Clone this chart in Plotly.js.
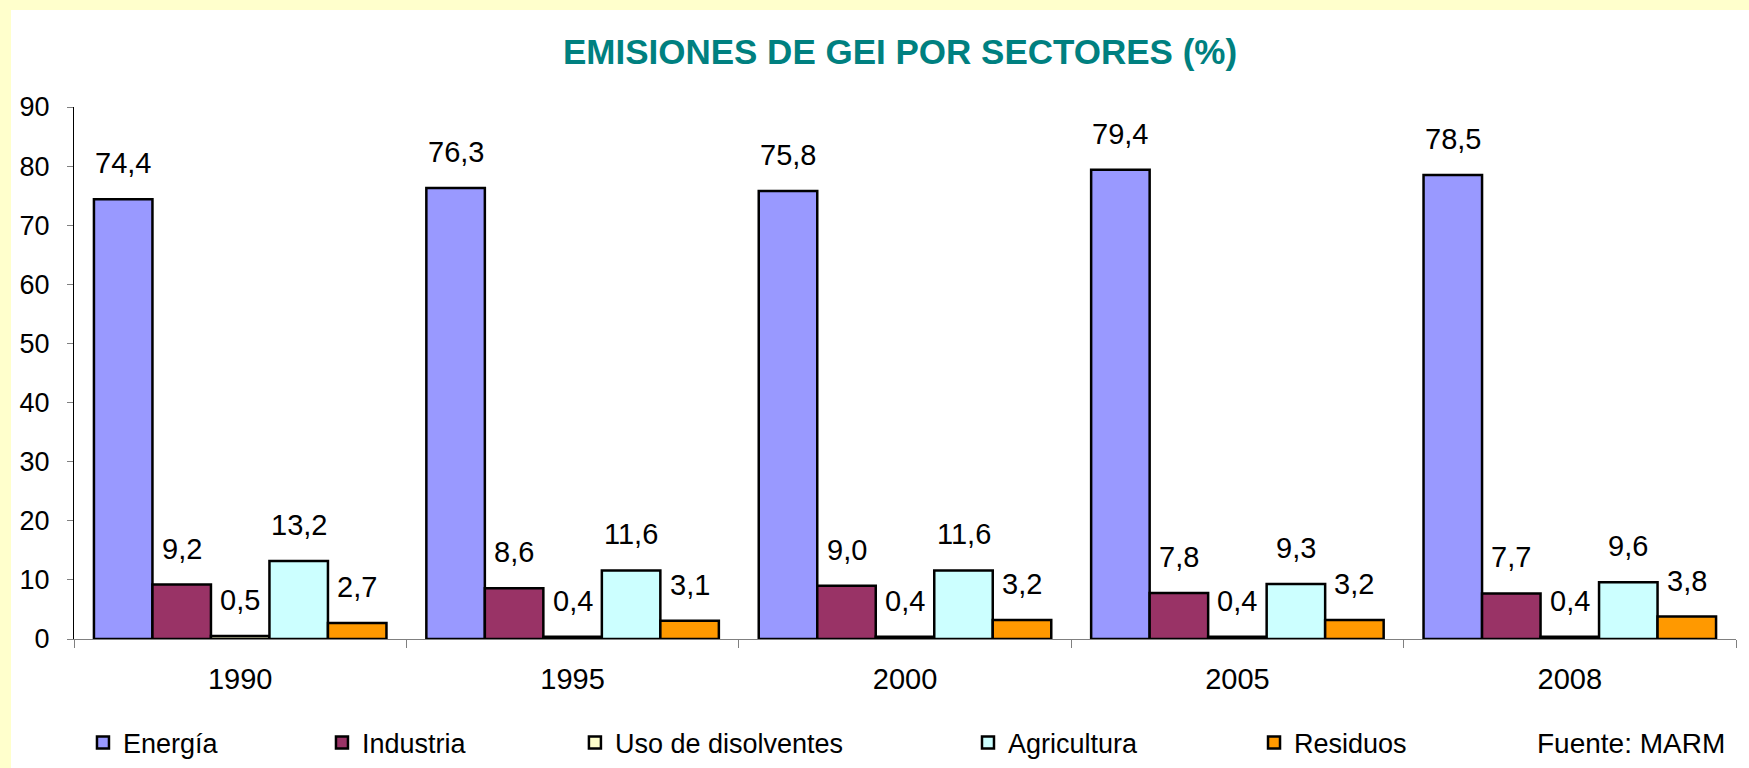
<!DOCTYPE html>
<html>
<head>
<meta charset="utf-8">
<script src="https://cdn.plot.ly/plotly-3.0.1.min.js"></script>
<style>
  html, body { margin: 0; padding: 0; background: #FFFFCC; width: 1749px; height: 768px; overflow: hidden; }
  #chart { position: absolute; left: 11px; top: 10px; width: 1738px; height: 758px; background: #ffffff; }
</style>
</head>
<body>
<div id="chart"></div>
<script>
// ---- Data ----
const years = ['1990', '1995', '2000', '2005', '2008'];
const seriesNames = ['Energía', 'Industria', 'Uso de disolventes', 'Agricultura', 'Residuos'];
const energia     = [74.4, 76.3, 75.8, 79.4, 78.5];
const industria   = [9.2, 8.6, 9.0, 7.8, 7.7];
const disolventes = [0.5, 0.4, 0.4, 0.4, 0.4];
const agricultura = [13.2, 11.6, 11.6, 9.3, 9.6];
const residuos    = [2.7, 3.1, 3.2, 3.2, 3.8];
const titleText = 'EMISIONES DE GEI POR SECTORES (%)';
const sourceText = 'Fuente: MARM';

// ---- Styles ----
const seriesValues = [energia, industria, disolventes, agricultura, residuos];
const colors = ['#9999FF', '#993366', '#FFFFCC', '#CCFFFF', '#FF9900'];
const legendX = [0.0054, 0.1492, 0.3014, 0.5379, 0.7100];
const FONT = 'Liberation Sans, Arial, sans-serif';
const BARGAP = 0.12;
const nSeries = seriesValues.length;
const unit = (1 - BARGAP) / nSeries;

const fmt = v => v.toFixed(1).replace('.', ',');

const traces = seriesValues.map((vals, s) => ({
  type: 'bar',
  name: seriesNames[s],
  x: years,
  y: vals,
  marker: { color: colors[s], line: { color: '#000000', width: 2.5 } },
  legend: s === 0 ? 'legend' : 'legend' + (s + 1),
  hoverinfo: 'x+y+name'
}));

const annotations = [];
seriesValues.forEach((vals, s) => {
  vals.forEach((v, i) => {
    annotations.push({
      x: i + (s - (nSeries - 1) / 2) * unit,
      y: v,
      xref: 'x', yref: 'y',
      text: fmt(v),
      showarrow: false,
      xanchor: 'center', yanchor: 'bottom',
      yshift: 18,
      font: { family: FONT, size: 29, color: '#000000' }
    });
  });
});
// source text, in paper coords relative to plot area (bottom at 629px, height 532px)
annotations.push({
  x: 0.9946, y: (629 - 733) / 532, xref: 'paper', yref: 'paper',
  xanchor: 'right', yanchor: 'middle',
  text: sourceText, showarrow: false,
  font: { family: FONT, size: 28, color: '#000000' }
});

const legendBase = {
  orientation: 'h',
  xanchor: 'left', yanchor: 'middle',
  xref: 'paper', yref: 'container',
  y: 1 - 733 / 758,
  bgcolor: 'rgba(0,0,0,0)',
  borderwidth: 0,
  font: { family: FONT, size: 27, color: '#000000' }
};

const layout = {
  width: 1738, height: 758,
  paper_bgcolor: '#ffffff',
  plot_bgcolor: '#ffffff',
  margin: { l: 63, r: 13, t: 97, b: 129 },
  barmode: 'group',
  bargap: BARGAP,
  bargroupgap: 0,
  showlegend: true,
  title: {
    text: '<b>' + titleText + '</b>',
    font: { family: FONT, size: 35, color: '#008080' },
    x: 0.497, xref: 'paper', xanchor: 'center',
    y: 1 - 42 / 758, yref: 'container', yanchor: 'middle'
  },
  xaxis: {
    type: 'category',
    showline: true, linecolor: '#808080', linewidth: 1,
    ticks: 'outside', tickson: 'boundaries', ticklen: 8, tickcolor: '#808080',
    tickfont: { family: FONT, size: 29, color: '#000000' },
    ticklabelstandoff: 14,
    showgrid: false, zeroline: false
  },
  yaxis: {
    range: [0, 90], dtick: 10, tick0: 0,
    showline: true, linecolor: '#000000', linewidth: 1,
    ticks: 'outside', ticklen: 6, tickcolor: '#808080',
    tickfont: { family: FONT, size: 27, color: '#000000' },
    ticklabelstandoff: 12,
    showgrid: false, zeroline: false
  },
  annotations: annotations
};
seriesNames.forEach((n, s) => {
  const key = s === 0 ? 'legend' : 'legend' + (s + 1);
  layout[key] = Object.assign({}, legendBase, { x: legendX[s] });
});

Plotly.newPlot('chart', traces, layout, { displayModeBar: false, staticPlot: true });
</script>
</body>
</html>
